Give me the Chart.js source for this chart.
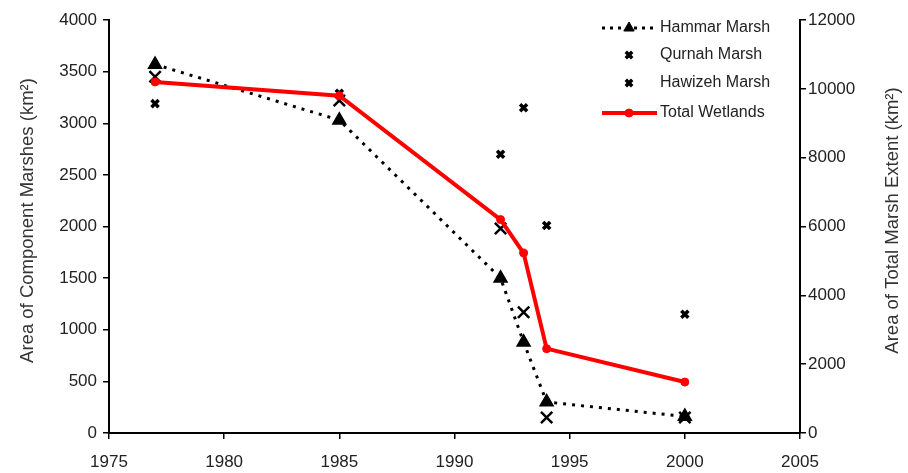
<!DOCTYPE html>
<html lang="en">
<head>
<meta charset="UTF-8">
<title>Mesopotamian Marshes</title>
<script src="https://cdn.jsdelivr.net/npm/chart.js"></script>
<style>
  html, body { margin: 0; padding: 0; background: #fff; }
  #wrap { width: 908px; height: 473px; }
</style>
</head>
<body>
<div id="wrap"><canvas id="chart" width="908" height="473"></canvas></div>
<script>
// values
const years = [1977, 1985, 1992, 1993, 1994, 2000];
const hammar = [3570, 3030, 1500, 880, 300, 160];
const qurnah = [3450, 3220, 1980, 1170, 150, 150];
const hawizeh = [3190, 3290, 2700, 3150, 2010, 1150];
const totalWetlands = [10200, 9800, 6200, 5230, 2450, 1480];

const leftTitle = 'Area of Component Marshes (km\u00B2)';
const rightTitle = 'Area of Total Marsh Extent (km\u00B2)';
const fontFamily = '"Liberation Sans", Arial, sans-serif';

const toPoints = vals => years.map((y, i) => ({ x: y, y: vals[i] }));

// legend marker looks
const legendRows = [
    { label: 'Hammar Marsh', y: 28, line: 'dot', color: '#000', point: { pointStyle: 'triangle', radius: 6, borderWidth: 1, rotation: 0 } },
    { label: 'Qurnah Marsh', y: 55, line: null, color: '#000', point: { pointStyle: 'crossRot', radius: 4.5, borderWidth: 3.5, rotation: 0 } },
    { label: 'Hawizeh Marsh', y: 83, line: null, color: '#000', point: { pointStyle: 'crossRot', radius: 4.5, borderWidth: 3.5, rotation: 0 } },
    { label: 'Total Wetlands', y: 113, line: 'red', color: 'red', point: { pointStyle: 'circle', radius: 4, borderWidth: 1, rotation: 0 } }
];

// legend and the upward-reading axis titles
const extras = {
    id: 'extras',
    afterDraw(chart) {
        const ctx = chart.ctx;
        const area = chart.chartArea;
        const midY = (area.top + area.bottom) / 2 - 6;
        [[28, leftTitle], [893, rightTitle]].forEach(([x, text]) => {
            ctx.save();
            ctx.fillStyle = '#333';
            ctx.font = '18.5px ' + fontFamily;
            ctx.textAlign = 'center';
            ctx.textBaseline = 'middle';
            ctx.translate(x, midY);
            ctx.rotate(-Math.PI / 2);
            ctx.fillText(text, 0, 0);
            ctx.restore();
        });

        const lx0 = 602, lx1 = 657, mx = 629, tx = 660;
        legendRows.forEach(r => {
            ctx.save();
            if (r.line) {
                ctx.strokeStyle = r.color;
                ctx.lineWidth = r.line === 'dot' ? 3 : 4;
                ctx.setLineDash(r.line === 'dot' ? [3, 5] : []);
                ctx.beginPath();
                ctx.moveTo(lx0, r.y);
                ctx.lineTo(lx1, r.y);
                ctx.stroke();
            }
            ctx.setLineDash([]);
            ctx.strokeStyle = r.color;
            ctx.fillStyle = r.color;
            ctx.lineWidth = r.point.borderWidth;
            Chart.helpers.drawPoint(ctx, r.point, mx, r.y);
            ctx.fillStyle = '#222';
            ctx.font = '16px ' + fontFamily;
            ctx.textAlign = 'left';
            ctx.textBaseline = 'middle';
            ctx.fillText(r.label, tx, r.y);
            ctx.restore();
        });
    }
};

const tickFont = { family: fontFamily, size: 17 };
const axisGrid = { display: true, drawOnChartArea: false, drawTicks: true, tickLength: 6, color: '#000', lineWidth: 1.5 };
const axisBorder = { display: true, color: '#000', width: 2 };

new Chart(document.getElementById('chart'), {
    type: 'line',
    data: {
        datasets: [
            {
                label: 'Total Wetlands',
                data: toPoints(totalWetlands),
                yAxisID: 'y2',
                order: 0,
                borderColor: 'red',
                backgroundColor: 'red',
                borderWidth: 4,
                pointStyle: 'circle',
                pointRadius: 4,
                pointBorderWidth: 1,
                pointBackgroundColor: 'red',
                pointBorderColor: 'red',
                fill: false,
                tension: 0
            },
            {
                label: 'Hammar Marsh',
                data: toPoints(hammar),
                yAxisID: 'y',
                order: 1,
                borderColor: '#000',
                backgroundColor: '#000',
                borderWidth: 3,
                borderDash: [3, 6],
                pointStyle: 'triangle',
                pointRadius: 6,
                pointBackgroundColor: '#000',
                pointBorderColor: '#000',
                fill: false,
                tension: 0
            },
            {
                label: 'Qurnah Marsh',
                data: toPoints(qurnah),
                yAxisID: 'y',
                order: 2,
                showLine: false,
                borderColor: '#000',
                pointStyle: 'crossRot',
                pointRadius: 8,
                pointBorderWidth: 2.5,
                pointBorderColor: '#000'
            },
            {
                label: 'Hawizeh Marsh',
                data: toPoints(hawizeh),
                yAxisID: 'y',
                order: 3,
                showLine: false,
                borderColor: '#000',
                pointStyle: 'crossRot',
                pointRadius: 5,
                pointBorderWidth: 3.5,
                pointBorderColor: '#000'
            }
        ]
    },
    options: {
        responsive: false,
        animation: false,
        layout: { padding: { top: 20, left: 0, right: 0, bottom: 0 } },
        plugins: {
            legend: { display: false },
            tooltip: { enabled: false }
        },
        scales: {
            x: {
                type: 'linear',
                min: 1975,
                max: 2005,
                ticks: { stepSize: 5, color: '#222', font: tickFont, padding: 13, callback: v => String(v) },
                grid: axisGrid,
                border: axisBorder,
                afterFit: s => { s.height = 40; }
            },
            y: {
                position: 'left',
                min: 0,
                max: 4000,
                ticks: { stepSize: 500, color: '#222', font: tickFont, padding: 6, callback: v => String(v) },
                grid: axisGrid,
                border: axisBorder,
                afterFit: s => { s.width = 109; }
            },
            y2: {
                position: 'right',
                min: 0,
                max: 12000,
                ticks: { stepSize: 2000, color: '#222', font: tickFont, padding: 2, callback: v => String(v) },
                grid: axisGrid,
                border: axisBorder,
                afterFit: s => { s.width = 108; }
            }
        }
    },
    plugins: [extras]
});
</script>
</body>
</html>
